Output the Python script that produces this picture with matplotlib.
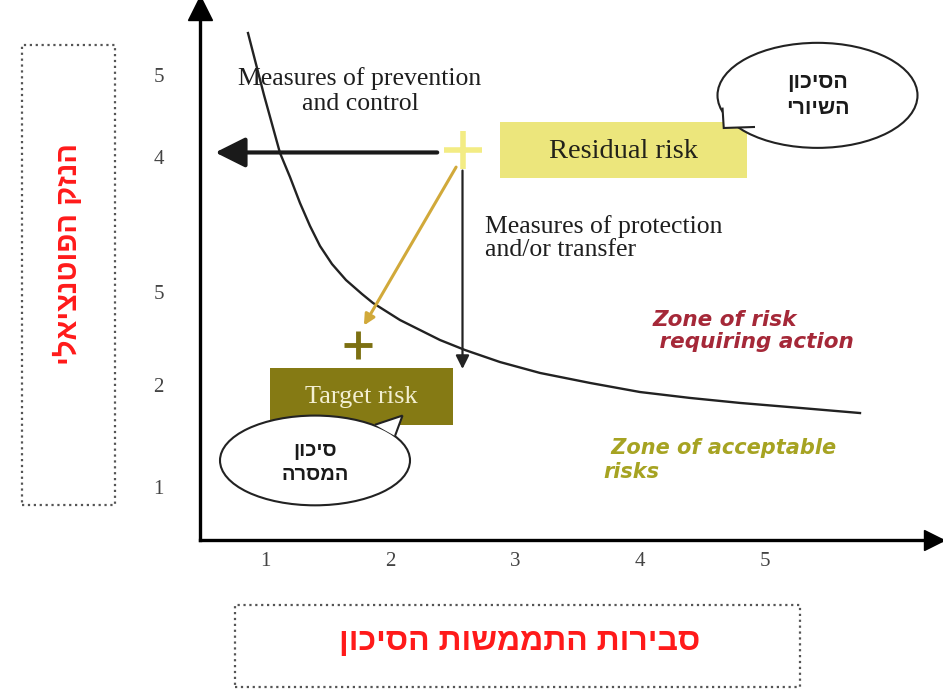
# risk matrix sketch: residual risk vs target risk
import matplotlib
matplotlib.use('Agg')
import matplotlib.pyplot as plt
from matplotlib.patches import Rectangle, Ellipse, Polygon

# the risk curve (x = probability, y = potential damage)
curve_x = [0.864, 0.992, 1.12, 1.20, 1.28, 1.36, 1.44, 1.536, 1.648, 1.776, 1.864, 2.08,
           2.40, 2.60, 2.88, 3.20, 3.60, 4.00, 4.40, 4.80, 5.28, 5.76]
curve_y = [5.451, 4.843, 4.275, 4.039, 3.784, 3.559, 3.363, 3.186, 3.029, 2.892, 2.804, 2.637,
           2.441, 2.343, 2.225, 2.118, 2.020, 1.931, 1.873, 1.824, 1.775, 1.725]

xticks = [1, 2, 3, 4, 5]
xtick_labels = ['1', '2', '3', '4', '5']
yticks = [1.0, 2.0, 2.91, 4.24, 5.04]
ytick_labels = ['1', '2', '5', '4', '5']

residual = (2.58, 4.30)
target = (1.74, 2.39)

W, H = 943, 689
serif = 'Liberation Serif'
heb = ['Liberation Sans', 'DejaVu Sans']


def rtl(s):
    # matplotlib has no bidi, so flip hebrew lines by hand
    return '\n'.join(line[::-1] for line in s.split('\n'))


def fx(px):
    return px / W


def fy(py):
    return 1 - py / H


fig = plt.figure(figsize=(W / 100, H / 100), dpi=100)
ax = fig.add_axes([fx(200), fy(540), fx(943) - fx(200), fy(0) - fy(540)])
ax.set_xlim(0.48, 6.424)
ax.set_ylim(0.48, 5.775)
for s in ['top', 'right']:
    ax.spines[s].set_visible(False)
for s in ['left', 'bottom']:
    ax.spines[s].set_linewidth(2.4)
    ax.spines[s].set_color('black')

ax.set_xticks(xticks, xtick_labels, fontfamily=serif, fontsize=15, color='#444444')
ax.set_yticks(yticks, ytick_labels, fontfamily=serif, fontsize=15, color='#444444')
ax.tick_params(axis='x', length=0, pad=9)
ax.tick_params(axis='y', length=0, pad=26)

# arrow heads on the axes
ax.plot([0.48], [5.70], marker='^', ms=17, color='black', clip_on=False)
ax.plot([6.35], [0.48], marker='>', ms=15, color='black', clip_on=False)

# curve
ax.plot(curve_x, curve_y, color='#222222', lw=1.7, zorder=3, solid_joinstyle='round')

# arrows
ax.annotate('', xy=(0.58, residual[1] - 0.02), xytext=(2.40, residual[1] - 0.02),
            arrowprops=dict(arrowstyle='-|>', lw=3, color='#1a1a1a', mutation_scale=46), zorder=4)
ax.annotate('', xy=(residual[0], 2.13), xytext=(residual[0], 4.13),
            arrowprops=dict(arrowstyle='-|>', lw=1.6, color='#222222', mutation_scale=20), zorder=4)
ax.annotate('', xy=(1.78, 2.56), xytext=(2.54, 4.16),
            arrowprops=dict(arrowstyle='-|>', lw=2.2, color='#d1a93a', mutation_scale=16), zorder=4)

# residual / target markers
ax.plot(*residual, marker='+', ms=28, mew=4, color='#f3ec84', zorder=5)
ax.plot(*target, marker='+', ms=20, mew=3.5, color='#7c7012', zorder=5)

# boxes
ax.add_patch(Rectangle((2.88, 4.03), 1.98, 0.55, fc='#ece67c', ec='none', zorder=2))
ax.text(3.87, 4.29, 'Residual risk', ha='center', va='center', fontfamily=serif,
        fontsize=20.5, color='#22221a', zorder=6)
ax.add_patch(Rectangle((1.04, 1.61), 1.46, 0.56, fc='#857a14', ec='none', zorder=2))
ax.text(1.77, 1.88, 'Target risk', ha='center', va='center', fontfamily=serif,
        fontsize=19, color='#f3efd2', zorder=6)

# texts
ax.text(1.76, 4.88, 'Measures of prevention\nand control', ha='center', va='center',
        fontfamily=serif, fontsize=18.5, color='#1e1e1e', linespacing=1.15, zorder=6)
ax.text(2.76, 3.44, 'Measures of protection\nand/or transfer', ha='left', va='center',
        fontfamily=serif, fontsize=18.5, color='#1e1e1e', linespacing=1.1, zorder=6)
ax.text(4.10, 2.53, 'Zone of risk\n requiring action', ha='left', va='center',
        fontfamily='DejaVu Sans', fontweight='bold', style='italic', fontsize=15.5,
        color='#a52838', linespacing=1.1, zorder=6)
ax.text(3.71, 1.26, ' Zone of acceptable\nrisks', ha='left', va='center',
        fontfamily='DejaVu Sans', fontweight='bold', style='italic', fontsize=15,
        color='#a6a322', linespacing=1.25, zorder=6)

# speech bubbles
ax.add_patch(Ellipse((5.42, 4.84), 1.60, 1.03, fc='white', ec='#222222', lw=1.5, zorder=6))
ax.add_patch(Polygon([(4.66, 4.72), (4.67, 4.52), (4.92, 4.53)], closed=False,
                     fc='white', ec='#222222', lw=1.5, zorder=7))
ax.text(5.42, 4.84, rtl('הסיכון\nהשיורי'), ha='center', va='center', family=heb,
        fontweight='bold', fontsize=15.5, color='#1a1a1a', linespacing=1.35, zorder=8)

ax.add_patch(Ellipse((1.40, 1.26), 1.52, 0.88, fc='white', ec='#222222', lw=1.5, zorder=6))
ax.add_patch(Polygon([(1.88, 1.61), (2.10, 1.70), (2.04, 1.50)], closed=False,
                     fc='white', ec='#222222', lw=1.5, zorder=7))
ax.text(1.40, 1.24, rtl('סיכון\nהמסרה'), ha='center', va='center', family=heb,
        fontweight='bold', fontsize=14.5, color='#1a1a1a', linespacing=1.35, zorder=8)

# dotted label boxes outside the axes
fig.add_artist(Rectangle((fx(22), fy(505)), fx(115) - fx(22), fy(45) - fy(505),
                         transform=fig.transFigure, fill=False, ec='#555555', lw=1.6, ls=':'))
fig.text(fx(68), fy(254), rtl('הנזק הפוטנציאלי'), rotation=90, ha='center', va='center',
         family=heb, fontweight='bold', fontsize=21, color='#ff1a1a')
fig.add_artist(Rectangle((fx(235), fy(687)), fx(800) - fx(235), fy(605) - fy(687),
                         transform=fig.transFigure, fill=False, ec='#555555', lw=1.6, ls=':'))
fig.text(fx(520), fy(642), rtl('סבירות התממשות הסיכון'), ha='center', va='center',
         family=heb, fontweight='bold', fontsize=23, color='#ff1a1a')

fig.savefig('out.png', dpi=100)
